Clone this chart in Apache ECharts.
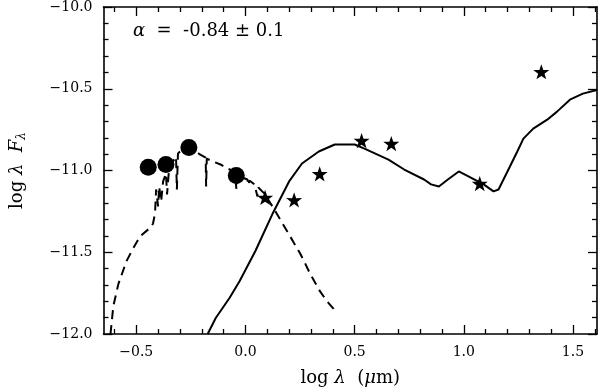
<!DOCTYPE html>
<html>
<head>
<meta charset="utf-8">
<script src="https://cdn.jsdelivr.net/npm/echarts@6/dist/echarts.min.js"></script>
<style>
  html, body { margin: 0; padding: 0; background: #fff; }
  #sed { width: 600px; height: 392px; }
</style>
</head>
<body>
<div id="sed"></div>
<script>
// photometry (circles = optical, stars = IR)
var circlePts = [[-0.445, -10.98], [-0.364, -10.963], [-0.259, -10.86], [-0.042, -11.03]];
var starPts = [[0.09, -11.165], [0.223, -11.18], [0.34, -11.02], [0.532, -10.817],
               [0.668, -10.835], [1.073, -11.08], [1.355, -10.396]];

// dust/disk model (solid)
var modelSolid = [
  [-0.173, -12.0], [-0.136, -11.902], [-0.073, -11.78], [-0.027, -11.677], [0.045, -11.494],
  [0.123, -11.268], [0.2, -11.067], [0.259, -10.957], [0.336, -10.884], [0.409, -10.841],
  [0.5, -10.841], [0.545, -10.866], [0.655, -10.933], [0.727, -10.994], [0.818, -11.055],
  [0.85, -11.085], [0.886, -11.098], [0.927, -11.055], [0.977, -11.006], [1.032, -11.043],
  [1.091, -11.085], [1.136, -11.128], [1.159, -11.116], [1.2, -11.006], [1.245, -10.884],
  [1.273, -10.805], [1.318, -10.744], [1.382, -10.689], [1.427, -10.64], [1.486, -10.567],
  [1.545, -10.53], [1.61, -10.508]
];

// stellar photosphere (dashed)
var photosphere = [
  [-0.618, -12.0], [-0.605, -11.829], [-0.582, -11.695], [-0.545, -11.555], [-0.514, -11.476],
  [-0.482, -11.402], [-0.445, -11.36], [-0.432, -11.348], [-0.423, -11.323], [-0.414, -11.262],
  [-0.409, -11.116], [-0.4, -11.22], [-0.395, -11.098], [-0.386, -11.189], [-0.377, -11.067],
  [-0.364, -11.018], [-0.359, -11.146], [-0.35, -10.994], [-0.332, -10.945], [-0.318, -10.915],
  [-0.314, -11.116], [-0.309, -10.896], [-0.295, -10.878], [-0.273, -10.86], [-0.241, -10.866],
  [-0.209, -10.902], [-0.182, -10.921], [-0.18, -11.098], [-0.177, -10.927], [-0.15, -10.945],
  [-0.114, -10.963], [-0.082, -10.988], [-0.05, -11.006], [-0.041, -11.116], [-0.032, -11.018],
  [-0.014, -11.043], [0.009, -11.055], [0.014, -11.091], [0.018, -11.061], [0.041, -11.085],
  [0.055, -11.159], [0.059, -11.104], [0.086, -11.14], [0.109, -11.189], [0.132, -11.238],
  [0.159, -11.299], [0.191, -11.372], [0.223, -11.445], [0.25, -11.506], [0.273, -11.567],
  [0.295, -11.628], [0.318, -11.683], [0.341, -11.738], [0.373, -11.799], [0.405, -11.848]
];

var xMajor = [-0.5, 0, 0.5, 1, 1.5];
var xMinor = [-0.6, -0.4, -0.3, -0.2, -0.1, 0.1, 0.2, 0.3, 0.4, 0.6, 0.7, 0.8, 0.9,
              1.1, 1.2, 1.3, 1.4, 1.6];

var serif = 'DejaVu Serif';
var starPath = 'path://M50,0 L61.8,35.1 L97.6,34.5 L68.8,56.9 L79.4,90.5 L50,70 L20.6,90.5 L31.2,56.9 L2.4,34.5 L38.2,35.1 Z';

function fmt(v) {
  return v.toFixed(1).replace('-', '\u2212');
}

function xAx(pos, vals, len, labels) {
  return {
    type: 'value', position: pos, min: -0.65, max: 1.61,
    axisLine: { show: labels, onZero: false, lineStyle: { color: '#000', width: 1.6 } },
    axisTick: { show: true, inside: true, length: len, customValues: vals,
                lineStyle: { color: '#000', width: 1.3 } },
    axisLabel: { show: labels && pos == 'bottom', customValues: vals, formatter: fmt,
                 color: '#000', fontFamily: serif, fontSize: 14, margin: 11 },
    splitLine: { show: false }
  };
}

function yAx(pos, labels) {
  return {
    type: 'value', position: pos, min: -12, max: -10, interval: 0.5,
    axisLine: { show: true, onZero: false, lineStyle: { color: '#000', width: 1.6 } },
    axisTick: { show: true, inside: true, length: 9, lineStyle: { color: '#000', width: 1.3 } },
    minorTick: { show: true, splitNumber: 5, length: 5, lineStyle: { color: '#000', width: 1.3 } },
    axisLabel: { show: labels, formatter: fmt, color: '#000', fontFamily: serif,
                 fontSize: 14, margin: 11 },
    splitLine: { show: false }
  };
}

var chart = echarts.init(document.getElementById('sed'));

var xBottom = xAx('bottom', xMajor, 9, true);
xBottom.name = 'log {i|\u03bb}  ({i|\u03bc}m)';
xBottom.nameLocation = 'middle';
xBottom.nameGap = 35;
xBottom.nameTextStyle = { color: '#000', fontFamily: serif, fontSize: 18,
  rich: { i: { fontFamily: serif, fontStyle: 'italic', fontSize: 18, color: '#000' } } };

var yLeft = yAx('left', true);
yLeft.name = 'log {i|\u03bb}  {i|F}{sub|\u03bb}';
yLeft.nameLocation = 'middle';
yLeft.nameGap = 76;
yLeft.nameTextStyle = { color: '#000', fontFamily: serif, fontSize: 18,
  rich: {
    i: { fontFamily: serif, fontStyle: 'italic', fontSize: 18, color: '#000' },
    sub: { fontFamily: serif, fontStyle: 'italic', fontSize: 12, color: '#000', padding: [9, 0, 0, 0] }
  } };

var option = {
  animation: false,
  grid: { left: 100, right: 3, top: 5, bottom: 58 },
  xAxis: [
    xBottom,
    xAx('bottom', xMinor, 5, false),
    xAx('top', xMajor, 9, true),
    xAx('top', xMinor, 5, false)
  ],
  yAxis: [yLeft, yAx('right', false)],
  graphic: [{
    type: 'text', left: 133, top: 22,
    style: {
      text: '{i|\u03b1}{n|  =  -0.84 \u00b1 0.1}',
      fontFamily: serif, fontSize: 18, fill: '#000',
      rich: { i: { fontFamily: serif, fontStyle: 'italic', fontSize: 18, fill: '#000' },
              n: { fontFamily: serif, fontSize: 18, fill: '#000' } }
    }
  }],
  series: [
    {
      name: 'Photosphere', type: 'line', data: photosphere, showSymbol: false,
      lineStyle: { color: '#000', width: 2, type: [9, 6] }, z: 2
    },
    {
      name: 'Model', type: 'line', data: modelSolid, showSymbol: false,
      lineStyle: { color: '#000', width: 2 }, z: 3
    },
    {
      name: 'Optical', type: 'scatter', data: circlePts, symbol: 'circle', symbolSize: 17,
      itemStyle: { color: '#000', opacity: 1 }, z: 4
    },
    {
      name: 'IR', type: 'scatter', data: starPts, symbol: starPath, symbolSize: 16,
      symbolKeepAspect: true, itemStyle: { color: '#000', opacity: 1 }, z: 4
    }
  ]
};
chart.setOption(option);
</script>
</body>
</html>
